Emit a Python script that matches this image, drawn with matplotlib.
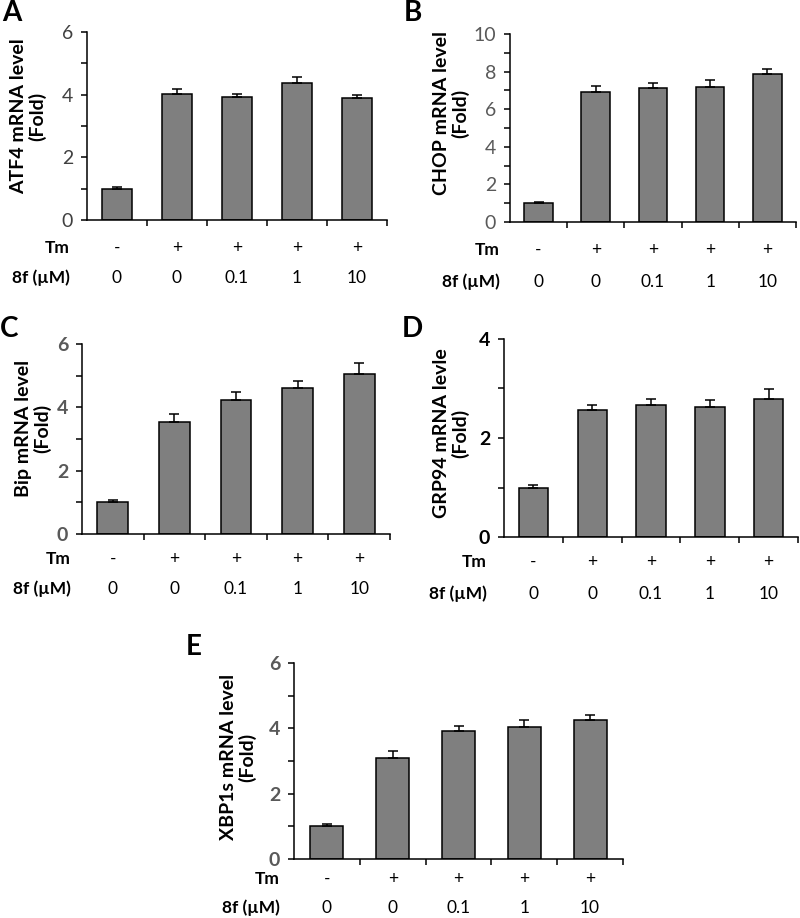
import matplotlib
matplotlib.use("Agg")
import matplotlib.pyplot as plt
import numpy as np

plt.rcParams['font.family'] = ['Lato', 'DejaVu Sans']

tm_labels = ['-', '+', '+', '+', '+']
dose_labels = ['0', '0', '0.1', '1', '10']

atf4 = [1.0, 4.02, 3.92, 4.38, 3.89]
atf4_err = [0.04, 0.16, 0.09, 0.19, 0.09]
chop = [1.01, 6.92, 7.13, 7.17, 7.86]
chop_err = [0.03, 0.31, 0.25, 0.37, 0.28]
bip = [1.0, 3.53, 4.24, 4.61, 5.06]
bip_err = [0.07, 0.27, 0.26, 0.22, 0.33]
grp94 = [1.0, 2.57, 2.67, 2.63, 2.79]
grp94_err = [0.06, 0.09, 0.12, 0.13, 0.19]
xbp1s = [1.0, 3.1, 3.93, 4.05, 4.27]
xbp1s_err = [0.07, 0.2, 0.15, 0.22, 0.15]

W, H = 800, 918
fig = plt.figure(figsize=(W / 100, H / 100), dpi=100)


def panel(left, top, right, zero, vals, errs, ymax, ylabel, letter, letter_xy,
          tick_col, tick_bold, lab_dx, lab_cy, row_dx, row_dy):
    ax = fig.add_axes([left / W, 1 - zero / H, (right - left) / W, (zero - top) / H])
    x = np.arange(len(vals))
    ax.bar(x, vals, width=0.5, color='#7f7f7f', edgecolor='black', linewidth=1.1, zorder=2)
    ax.errorbar(x, vals, yerr=[np.zeros(len(errs)), errs], fmt='none', ecolor='black',
                elinewidth=1.1, capsize=3.5, capthick=1.1, zorder=3)
    ax.set_xlim(-0.5, len(vals) - 0.5)
    ax.set_ylim(0, ymax)
    ax.spines['top'].set_visible(False)
    ax.spines['right'].set_visible(False)
    ax.spines['left'].set_linewidth(1.1)
    ax.spines['bottom'].set_linewidth(1.1)
    ax.set_yticks(np.arange(0, ymax + 0.1, 2))
    ax.set_yticks(np.arange(1, ymax, 2), minor=True)
    ax.set_xticks(np.arange(0.5, len(vals), 1))
    ax.set_xticklabels([])
    ax.tick_params(axis='both', which='both', direction='out', length=4, width=1.1)
    ax.tick_params(axis='y', which='major', pad=6, labelsize=14, labelcolor=tick_col)
    if tick_bold:
        for t in ax.get_yticklabels():
            t.set_fontweight('bold')
    ax.set_ylabel(ylabel, fontsize=14, fontweight='bold', linespacing=1.05)
    # label anchor is the right edge of the rotated block
    ax.yaxis.set_label_coords(lab_dx / (right - left), (zero - lab_cy) / (zero - top))
    # treatment rows under the axis
    ax.annotate('Tm', xy=(0, 0), xycoords='axes fraction', xytext=(row_dx, -row_dy[0]),
                textcoords='offset pixels', ha='right', va='center', fontsize=12.5, fontweight='bold')
    ax.annotate('8f (µM)', xy=(0, 0), xycoords='axes fraction', xytext=(row_dx, -row_dy[1]),
                textcoords='offset pixels', ha='right', va='center', fontsize=12.5, fontweight='bold')
    for i in range(len(vals)):
        ax.annotate(tm_labels[i], xy=(x[i], 0), xycoords=('data', 'axes fraction'),
                    xytext=(0, -row_dy[0]), textcoords='offset pixels',
                    ha='center', va='center', fontsize=12.5)
        ax.annotate(dose_labels[i], xy=(x[i], 0), xycoords=('data', 'axes fraction'),
                    xytext=(0, -row_dy[1]), textcoords='offset pixels',
                    ha='center', va='center', fontsize=12.5)
    fig.text(letter_xy[0] / W, 1 - letter_xy[1] / H, letter, fontsize=20,
             fontweight='bold', ha='left', va='top')
    return ax


panel(87, 32, 387, 220, atf4, atf4_err, 6, 'ATF4 mRNA level\n(Fold)', 'A', (2, 0),
      '#404040', False, -41, 116, -17, (28, 58))
panel(510, 34, 796, 222, chop, chop_err, 10, 'CHOP mRNA level\n(Fold)', 'B', (404, 0),
      '#595959', False, -41, 113, -10, (28, 60))
panel(82, 344, 390, 534, bip, bip_err, 6, 'Bip mRNA level\n(Fold)', 'C', (0, 316),
      '#595959', True, -31, 428, -11, (25, 55))
panel(504, 339, 798, 537, grp94, grp94_err, 4, 'GRP94 mRNA levle\n(Fold)', 'D', (402, 316),
      'black', True, -35, 433, -17, (25, 57))
panel(294, 663, 623, 859, xbp1s, xbp1s_err, 6, 'XBP1s mRNA level\n(Fold)', 'E', (186, 634),
      '#595959', True, -38, 757, -14, (20, 49))

fig.savefig('out.png', dpi=100)
